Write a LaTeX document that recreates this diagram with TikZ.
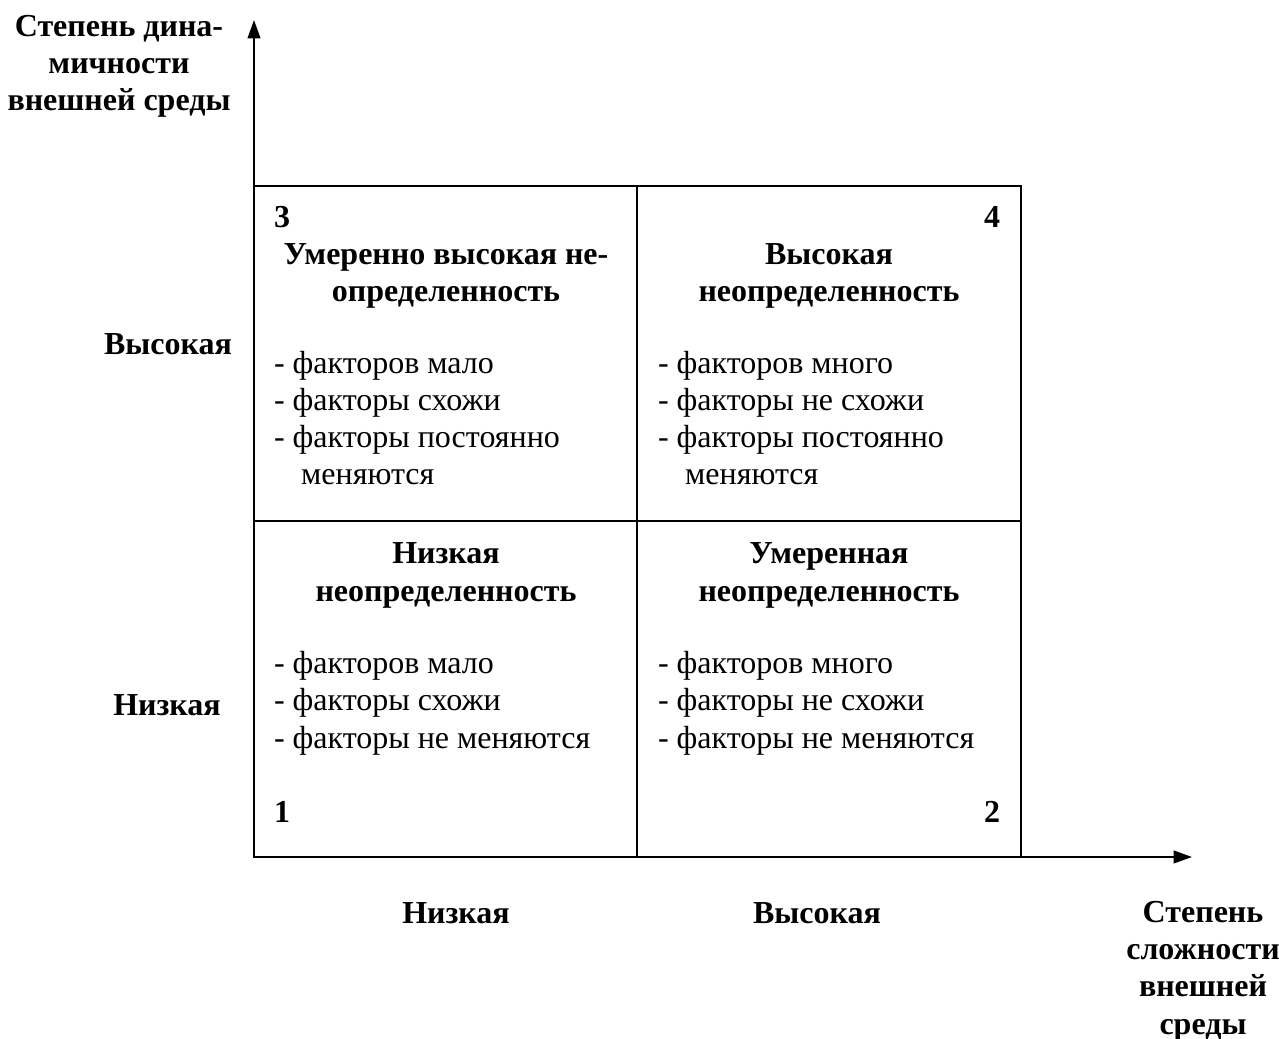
\documentclass[tikz,border=0pt]{standalone}
\usepackage{fontspec}
\setmainfont{Liberation Serif}
\usetikzlibrary{arrows.meta}

\begin{document}
\begin{tikzpicture}[x=0.4375pt,y=-0.4375pt,line width=0.9pt,
  every node/.style={inner sep=0pt,font=\fontsize{14}{16.2}\selectfont},
  bf/.style={font=\fontsize{14}{16.2}\selectfont\bfseries,anchor=base},
  ttl/.style={bf,align=center},
  items/.style={align=left,anchor=base west},
  axis/.style={-{Triangle[length=8pt,width=5.5pt]}}]
  \useasboundingbox (0,0) rectangle (1279,1039);
  % axes
  \coordinate (O) at (254,857);
  \coordinate (ytip) at (254,20);
  \coordinate (xtip) at (1192,857);
  \draw[axis] (O) -- (ytip);
  \draw[axis] (O) -- (xtip);
  % grid
  \draw (254,186) rectangle (1021,857);
  \draw (637,186) -- (637,857) (254,521) -- (1021,521);
  % axis labels (base = last line)
  \node[ttl] (ylbl) at (119,111) {Степень дина-\\мичности\\внешней среды};
  \node[ttl] (xlbl) at (1203,1034) {Степень\\сложности\\внешней\\среды};
  \node[bf] (yhigh) at (168,355) {Высокая};
  \node[bf] (ylow) at (167,715) {Низкая};
  \node[bf] (xlow) at (456,923) {Низкая};
  \node[bf] (xhigh) at (817,923) {Высокая};
  % cell numbers
  \node[bf] (n3) at (282,228) {3};
  \node[bf] (n4) at (992,228) {4};
  \node[bf] (n1) at (282,822) {1};
  \node[bf] (n2) at (992,822) {2};
  % cell titles
  \node[ttl] (t3) at (446,302) {Умеренно высокая не-\\определенность};
  \node[ttl] (t4) at (829,302) {Высокая\\неопределенность};
  \node[ttl] (t1) at (446,601) {Низкая\\неопределенность};
  \node[ttl] (t2) at (829,601) {Умеренная\\неопределенность};
  % cell items
  \node[items] (i3) at (273,485) {- факторов мало\\- факторы схожи\\- факторы постоянно\\\hspace*{0.85em}меняются};
  \node[items] (i4) at (657,485) {- факторов много\\- факторы не схожи\\- факторы постоянно\\\hspace*{0.85em}меняются};
  \node[items] (i1) at (273,748) {- факторов мало\\- факторы схожи\\- факторы не меняются};
  \node[items] (i2) at (657,748) {- факторов много\\- факторы не схожи\\- факторы не меняются};
\end{tikzpicture}
\end{document}
